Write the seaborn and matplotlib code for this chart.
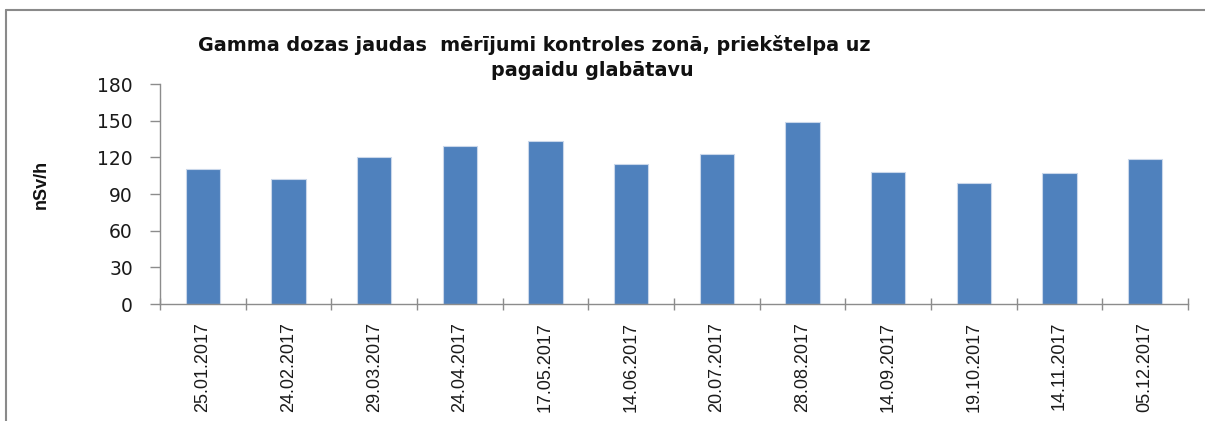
import matplotlib
matplotlib.use("Agg")
import matplotlib.pyplot as plt
from matplotlib.lines import Line2D
from matplotlib.ticker import FixedLocator
import seaborn as sns
import pandas as pd

# Measurement dates and gamma dose rate (nSv/h)
dates = ["25.01.2017", "24.02.2017", "29.03.2017", "24.04.2017", "17.05.2017",
         "14.06.2017", "20.07.2017", "28.08.2017", "14.09.2017", "19.10.2017",
         "14.11.2017", "05.12.2017"]
dose = [110.5, 102.3, 120.5, 129.0, 133.4, 114.3, 122.7, 148.7, 107.7, 99.3,
        107.0, 118.4]
y_ticks = [0, 30, 60, 90, 120, 150, 180]

title_line1 = "Gamma dozas jaudas  mērījumi kontroles zonā, priekštelpa uz"
title_line2 = "pagaidu glabātavu"
y_label = "nSv/h"

df = pd.DataFrame({"datums": dates, "dose": dose})

sns.set_theme(style="white")
plt.rcParams["font.family"] = ["DejaVu Sans"]

W, H = 1205, 421
fig = plt.figure(figsize=(W / 100, H / 100), dpi=100)

# axes box in pixels: x 160..1188, y 84..304 (from top)
ax = fig.add_axes([160 / W, (H - 304) / H, (1188 - 160) / W, (304 - 84) / H])

sns.barplot(data=df, x="datums", y="dose", color="#4F81BD", width=0.4,
            saturation=1, edgecolor="#C9D7EA", linewidth=0.8, ax=ax)

ax.set_xlim(-0.5, len(dates) - 0.5)
ax.set_ylim(0, 180)
ax.set_yticks(y_ticks)
ax.set_yticklabels([str(v) for v in y_ticks], fontsize=13.5, color="#1a1a1a")
ax.set_xlabel("")
ax.set_ylabel("")

grey = "#8C8C8C"
for side in ["top", "right"]:
    ax.spines[side].set_visible(False)
for side in ["left", "bottom"]:
    ax.spines[side].set_color(grey)
    ax.spines[side].set_linewidth(1.0)

ax.tick_params(axis="y", which="major", left=True, length=7.5, width=1.0,
               color=grey, pad=12, direction="out")
# category boundary ticks on the x axis
ax.xaxis.set_minor_locator(FixedLocator([i - 0.5 for i in range(len(dates) + 1)]))
ax.tick_params(axis="x", which="minor", bottom=True, length=9, width=1.0,
               color=grey, direction="inout")
ax.tick_params(axis="x", which="major", bottom=False, length=0, pad=13)
for lbl in ax.get_xticklabels():
    lbl.set_rotation(90)
    lbl.set_fontsize(13)
    lbl.set_family("Liberation Sans")
    lbl.set_color("#1a1a1a")
    lbl.set_va("top")
    lbl.set_ha("center")

# y axis title
fig.text(41 / W, 1 - 184 / H, y_label, rotation=90, ha="center", va="center",
         fontsize=13, fontweight="bold", family="Liberation Sans", color="#111111")

# chart title, two lines
fig.text(534 / W, 1 - 45 / H, title_line1, ha="center", va="center",
         fontsize=13.8, fontweight="bold", color="#111111")
fig.text(592 / W, 1 - 71 / H, title_line2, ha="center", va="center",
         fontsize=13.8, fontweight="bold", color="#111111")

# chart area frame (left and top edges)
fig.add_artist(Line2D([6 / W, 6 / W], [0, 1 - 10 / H], transform=fig.transFigure,
                      color="#8A8A8A", linewidth=1.5))
fig.add_artist(Line2D([6 / W, 1], [1 - 10 / H, 1 - 10 / H], transform=fig.transFigure,
                      color="#8A8A8A", linewidth=1.5))

fig.savefig("out.png", dpi=100)
